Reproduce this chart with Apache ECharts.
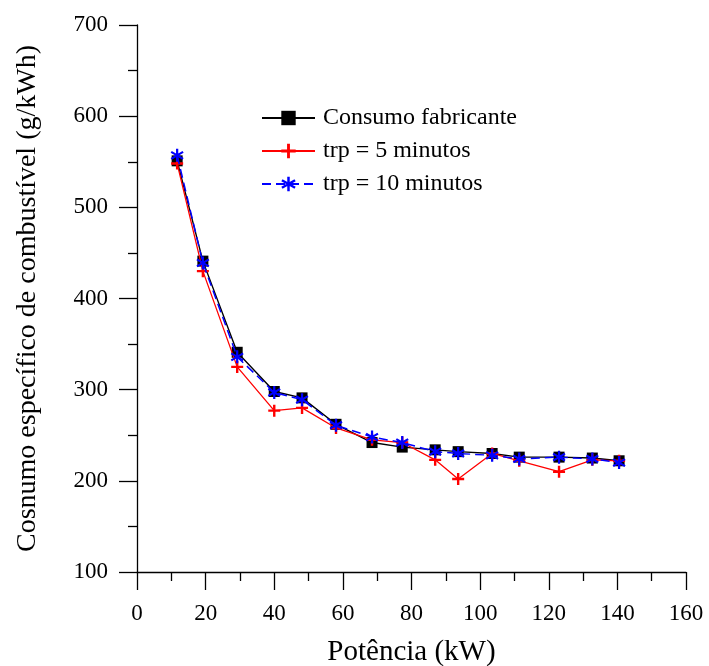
<!DOCTYPE html>
<html>
<head>
<meta charset="utf-8">
<script src="https://cdn.jsdelivr.net/npm/echarts@6/dist/echarts.min.js"></script>
<style>
html,body{margin:0;padding:0;background:#fff;}
#chart{width:709px;height:666px;}
</style>
</head>
<body>
<div id="chart"></div>
<script>
// Data
var potencia = [11.7, 19.2, 29.2, 40, 48.1, 58, 68.5, 77.3, 86.9, 93.6, 103.5, 111.4, 123, 132.7, 140.5];
var consumoFabricante = [551, 441, 341, 298, 291, 262, 242, 237, 234, 232, 230, 226, 226, 225, 222];
var trp5 = [548, 430, 325, 277, 280, 258, 245, 242, 223, 202, 230, 222, 210, 223, 222];
var trp10 = [557, 439, 336, 297, 289, 261, 248, 242, 232, 230, 228, 224, 226, 224, 220];
var seriesNames = ['Consumo fabricante', 'trp = 5 minutos', 'trp = 10 minutos'];

function pairs(xs, ys) { return xs.map(function (x, i) { return [x, ys[i]]; }); }

var FONT = '"Liberation Serif", "Times New Roman", serif';
var PLUS = 'path://M4,0L6,0L6,4L10,4L10,6L6,6L6,10L4,10L4,6L0,6L0,4L4,4Z';
var STAR = 'path://M4.2,0L5.8,0L5.8,10L4.2,10Z M8.83,1.634L9.63,3.02L1.17,8.366L0.37,6.98Z M9.63,6.98L8.83,8.366L0.37,3.02L1.17,1.634Z';

var chart = echarts.init(document.getElementById('chart'));
chart.setOption({
  backgroundColor: '#fff',
  animation: false,
  grid: { left: 137, top: 25, right: 23, bottom: 94, containLabel: false, outerBoundsMode: 'none' },
  legend: {
    left: 256, top: 101, orient: 'vertical',
    itemWidth: 53, itemHeight: 18, itemGap: 9,
    textStyle: { fontFamily: FONT, fontSize: 24, color: '#000', lineHeight: 24, padding: [0, 0, 0, 3] },
    data: seriesNames
  },
  xAxis: {
    type: 'value', min: 0, max: 160, interval: 20,
    name: 'Potência (kW)', nameLocation: 'middle', nameGap: 66,
    nameTextStyle: { fontFamily: FONT, fontSize: 29, color: '#000' },
    axisLine: { show: true, onZero: false, lineStyle: { color: '#000', width: 1.3 } },
    axisTick: { show: true, inside: false, length: 18, lineStyle: { color: '#000', width: 1.3 } },
    minorTick: { show: true, splitNumber: 2, length: 9, lineStyle: { color: '#000', width: 1.3 } },
    axisLabel: { fontFamily: FONT, fontSize: 23, color: '#000', margin: 30 },
    splitLine: { show: false }
  },
  yAxis: {
    type: 'value', min: 100, max: 700, interval: 100,
    name: 'Cosnumo específico de combustível (g/kWh)', nameLocation: 'middle', nameGap: 95,
    nameTextStyle: { fontFamily: FONT, fontSize: 28, color: '#000' },
    axisLine: { show: true, onZero: false, lineStyle: { color: '#000', width: 1.3 } },
    axisTick: { show: true, inside: false, length: 18, lineStyle: { color: '#000', width: 1.3 } },
    minorTick: { show: true, splitNumber: 2, length: 9, lineStyle: { color: '#000', width: 1.3 } },
    axisLabel: { fontFamily: FONT, fontSize: 23, color: '#000', margin: 29 },
    splitLine: { show: false }
  },
  series: [
    {
      name: seriesNames[0], type: 'line', data: pairs(potencia, consumoFabricante),
      symbol: 'rect', symbolSize: 11,
      itemStyle: { color: '#000' },
      lineStyle: { color: '#000', width: 1.4 }, z: 2
    },
    {
      name: seriesNames[1], type: 'line', data: pairs(potencia, trp5),
      symbol: PLUS, symbolSize: 12,
      itemStyle: { color: '#ff0000' },
      lineStyle: { color: '#ff0000', width: 1.3 }, z: 3
    },
    {
      name: seriesNames[2], type: 'line', data: pairs(potencia, trp10),
      symbol: STAR, symbolSize: 13,
      itemStyle: { color: '#0000ff' },
      lineStyle: { color: '#0000ff', width: 1.5, type: [9, 5] }, z: 4
    }
  ]
});
</script>
</body>
</html>
